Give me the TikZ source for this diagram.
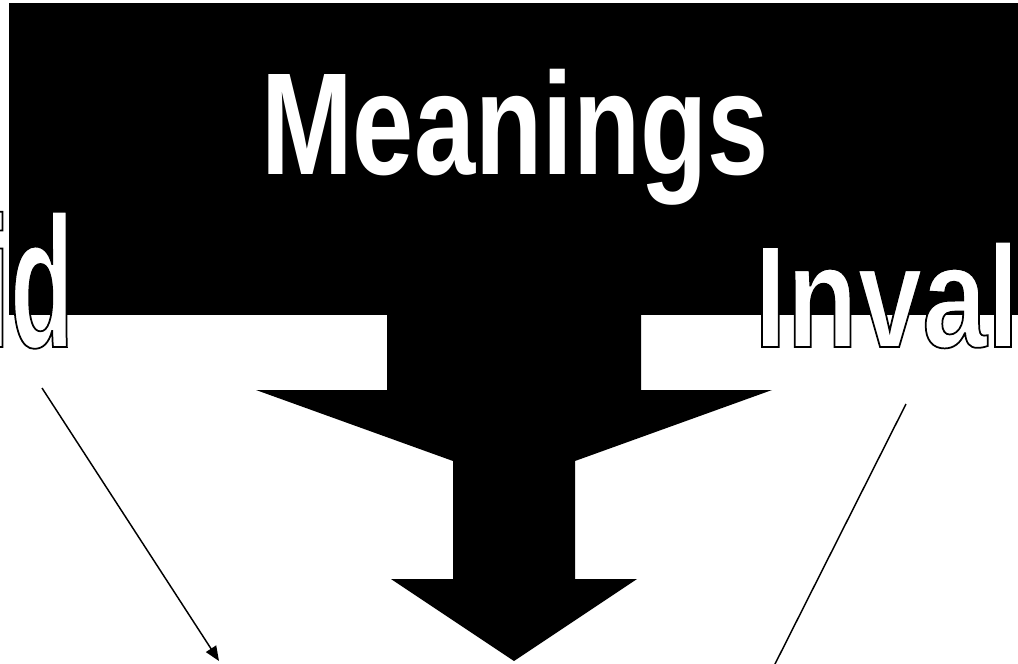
\documentclass[tikz,border=0pt]{standalone}
\usepackage{fontspec}
\usetikzlibrary{arrows.meta}
\newfontfamily\titlefont[FakeStretch=0.757]{Liberation Sans}
\newfontfamily\invalfont[FakeStretch=0.80]{Liberation Sans}
\newfontfamily\validfont[FakeStretch=0.56]{Liberation Sans}
% white letters with a black outline (PDF text render mode 2: fill, then stroke)
\newcommand{\outlinetext}[1]{\special{pdf:literal q 0 G 1.3 w 2 Tr}#1\special{pdf:literal Q}}
\begin{document}
\begin{tikzpicture}[x=0.75pt,y=-0.75pt,
  title/.style={text=white, inner sep=0pt, font=\titlefont\bfseries\fontsize{109}{120}\selectfont},
  outlined/.style={text=white, inner sep=0pt},
  conn/.style={line width=1.1pt, -{Triangle[length=11pt,width=9pt]}},
  plainconn/.style={line width=1.1pt}]
\useasboundingbox (0,0) rectangle (1018,664);
\clip (0,0) rectangle (1018,664);
% black banner
\fill[black] (9,3) rectangle (1018,315);
% big arrow shape
\fill[black] (387,314) -- (387,390) -- (256,390) -- (453,461) -- (453,579)
  -- (391,579) -- (514,661) -- (637,579) -- (575,579) -- (575,461)
  -- (772,390) -- (641,390) -- (641,314) -- cycle;
% texts
\node[title, anchor=base] (meanings) at (515,174) {Meanings};
\node[outlined, anchor=base east, font=\validfont\bfseries\fontsize{140}{150}\selectfont] (valid) at (74,347) {\outlinetext{Valid}};
\node[outlined, anchor=base west, font=\invalfont\bfseries\fontsize{109}{120}\selectfont] (invalid) at (754,347) {\outlinetext{Invalid}};
% connectors
\coordinate (vs) at (42,388);
\coordinate (ve) at (219,661);
\coordinate (is) at (906,404);
\coordinate (ie) at (774,666);
\draw[conn] (vs) -- (ve);
\draw[plainconn] (is) -- (ie);
\end{tikzpicture}
\end{document}
